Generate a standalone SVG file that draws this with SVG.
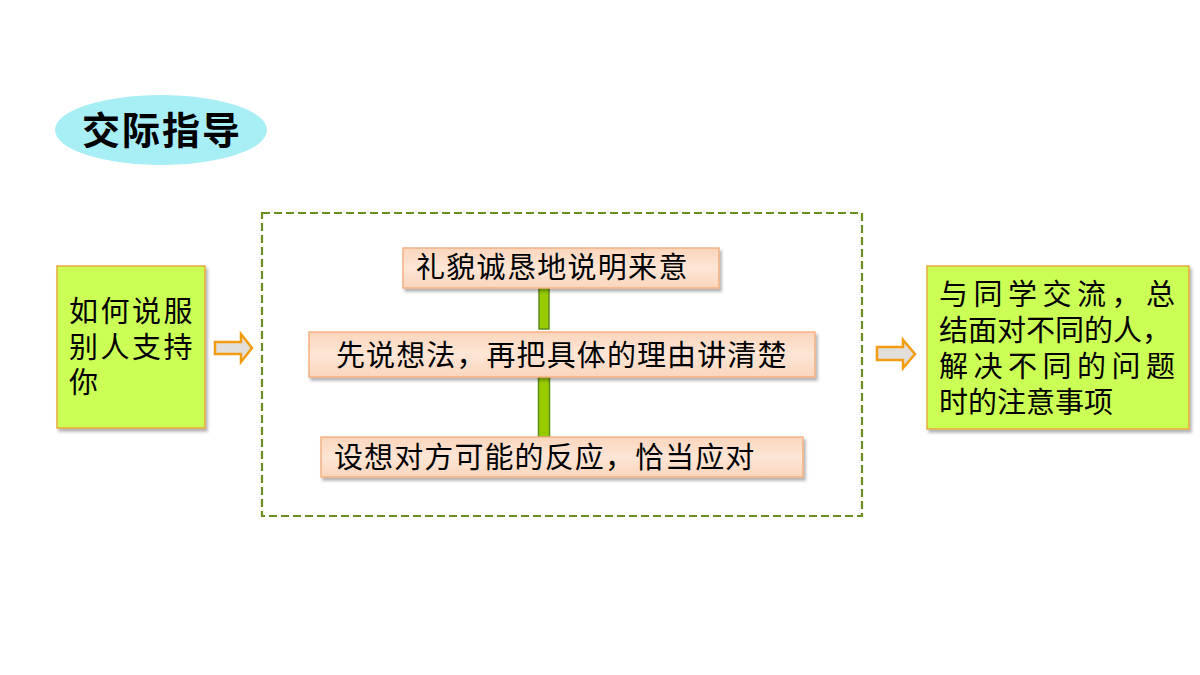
<svg xmlns="http://www.w3.org/2000/svg" width="1200" height="675" viewBox="0 0 1200 675">
<defs>
<style>
.t{font-family:"Noto Sans CJK SC","Noto Sans CJK JP",sans-serif;fill:#000;}
.peach{fill:url(#pg);stroke:#F4B183;stroke-width:1.5;filter:url(#sh);}
.lime{fill:#CCFF55;stroke:#E9A93C;stroke-width:1.5;filter:url(#sh);}
.conn{fill:#99CC00;stroke:#5E8A1E;stroke-width:1.5;}
.arr{fill:#E2DFDA;stroke:#F39C12;stroke-width:2.5;stroke-linejoin:miter;}
</style>
<linearGradient id="pg" x1="0" y1="0" x2="0" y2="1">
<stop offset="0" stop-color="#FBD5BC"/>
<stop offset="0.5" stop-color="#FDE6D6"/>
<stop offset="1" stop-color="#FBD5BC"/>
</linearGradient>
<filter id="sh" x="-5%" y="-5%" width="115%" height="125%">
<feDropShadow dx="2" dy="3" stdDeviation="1.5" flood-color="#000" flood-opacity="0.3"/>
</filter>
</defs>
<rect width="1200" height="675" fill="#fff"/>

<g id="title">
<ellipse cx="161" cy="130" rx="106" ry="35" fill="#A8EEF5"/>
<text class="t" x="162" y="144" font-size="38" font-weight="bold" text-anchor="middle" letter-spacing="2">交际指导</text>
</g>

<g id="frame">
<rect x="262" y="213" width="600" height="303" fill="none" stroke="#6B8E23" stroke-width="2.2" stroke-dasharray="8,4"/>
</g>

<g id="connectors">
<rect class="conn" x="539" y="288" width="10" height="41"/>
<rect class="conn" x="538.5" y="377" width="11" height="60"/>
<path class="arr" d="M215,342 H241 V334 L252,348 L241,362 V354 H215 Z"/>
<path class="arr" d="M877,347 H903 V340 L915,354 L903,368 V360 H877 Z"/>
</g>

<g id="left">
<rect class="lime" x="57" y="266" width="148" height="162"/>
<text class="t" font-size="29" letter-spacing="2.5"><tspan x="69" y="322">如何说服</tspan><tspan x="69" y="358">别人支持</tspan><tspan x="69" y="393">你</tspan></text>
</g>

<g id="step1">
<rect class="peach" x="403" y="248" width="316" height="40"/>
<text class="t" x="416" y="278" font-size="29" letter-spacing="1.3">礼貌诚恳地说明来意</text>
</g>

<g id="step2">
<rect class="peach" x="309" y="332" width="506" height="45"/>
<text class="t" x="336" y="366" font-size="29" letter-spacing="1.1">先说想法，再把具体的理由讲清楚</text>
</g>

<g id="step3">
<rect class="peach" x="321" y="437" width="482" height="40"/>
<text class="t" x="334" y="468" font-size="29" letter-spacing="1.1">设想对方可能的反应，恰当应对</text>
</g>

<g id="right">
<rect class="lime" x="927" y="266" width="262" height="163"/>
<text class="t" font-size="29"><tspan x="939" y="305" letter-spacing="5.5">与同学交流，总</tspan><tspan x="939" y="341">结面对不同的人，</tspan><tspan x="939" y="377" letter-spacing="5.5">解决不同的问题</tspan><tspan x="939" y="413">时的注意事项</tspan></text>
</g>
</svg>
